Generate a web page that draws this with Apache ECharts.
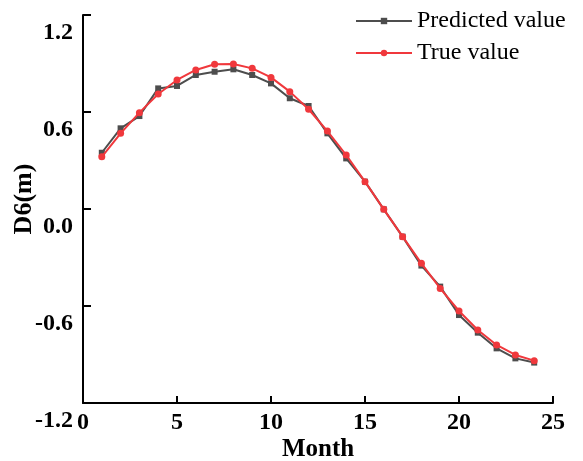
<!DOCTYPE html>
<html>
<head>
<meta charset="utf-8">
<script src="https://cdn.jsdelivr.net/npm/echarts@6/dist/echarts.min.js"></script>
<style>html,body{margin:0;padding:0;background:#fff}#c{width:583px;height:461px}</style>
</head>
<body>
<div id="c"></div>
<script>
const months = [1,2,3,4,5,6,7,8,9,10,11,12,13,14,15,16,17,18,19,20,21,22,23,24];
const predicted = [0.348,0.499,0.575,0.746,0.761,0.829,0.849,0.864,0.829,0.777,0.685,0.637,0.468,0.313,0.169,-0.002,-0.171,-0.350,-0.480,-0.656,-0.765,-0.862,-0.924,-0.950];
const trueVals = [0.323,0.468,0.596,0.711,0.798,0.860,0.895,0.897,0.870,0.814,0.726,0.617,0.482,0.334,0.169,-0.002,-0.171,-0.336,-0.491,-0.631,-0.748,-0.841,-0.903,-0.938];
const xTicks = [0,5,10,15,20,25];
const yTicks = [-1.2,-0.6,0.0,0.6,1.2];

const chart = echarts.init(document.getElementById('c'), null, {renderer:'canvas'});
const serif = '"Liberation Serif","Times New Roman",serif';
chart.setOption({
  animation:false,
  backgroundColor:'#fff',
  grid:{left:83,right:30,top:15,bottom:58,containLabel:false,outerBoundsMode:'none'},
  legend:{
    orient:'vertical', left:350, top:4, itemWidth:56, itemHeight:8, itemGap:8,
    textStyle:{fontFamily:serif,fontSize:24,color:'#000'},
    data:[{name:'Predicted value'},{name:'True value'}]
  },
  xAxis:{
    type:'value', min:xTicks[0], max:xTicks[xTicks.length-1], interval:5,
    name:'Month', nameLocation:'middle', nameGap:34, nameMoveOverlap:false,
    nameTextStyle:{fontFamily:serif,fontSize:25,fontWeight:'bold',color:'#000'},
    axisLine:{show:true,onZero:false,lineStyle:{color:'#000',width:2}},
    axisTick:{show:true,inside:true,length:7,lineStyle:{color:'#000',width:2}},
    axisLabel:{margin:8,fontFamily:serif,fontSize:24,fontWeight:'bold',color:'#000'},
    splitLine:{show:false}
  },
  yAxis:{
    type:'value', min:yTicks[0], max:yTicks[yTicks.length-1], interval:0.6,
    name:'D6(m)', nameLocation:'middle', nameGap:46, nameMoveOverlap:false,
    nameTextStyle:{fontFamily:serif,fontSize:26,fontWeight:'bold',color:'#000',padding:[0,0,0,20]},
    axisLine:{show:true,onZero:false,lineStyle:{color:'#000',width:2}},
    axisTick:{show:true,inside:true,length:8,lineStyle:{color:'#000',width:2}},
    axisLabel:{margin:10,fontFamily:serif,fontSize:24,fontWeight:'bold',color:'#000',
      verticalAlign:'top', padding:[6,0,0,0],
      formatter:function(v){return (Math.round(v*10)/10).toFixed(1);}},
    splitLine:{show:false}
  },
  series:[
    {name:'Predicted value',type:'line',data:months.map((m,i)=>[m,predicted[i]]),
     symbol:'rect',symbolSize:6,itemStyle:{color:'#4d4d4d'},lineStyle:{color:'#4d4d4d',width:2},z:2},
    {name:'True value',type:'line',data:months.map((m,i)=>[m,trueVals[i]]),
     symbol:'circle',symbolSize:7,itemStyle:{color:'#f0383c'},lineStyle:{color:'#f0383c',width:2},z:3}
  ]
});
</script>
</body>
</html>
